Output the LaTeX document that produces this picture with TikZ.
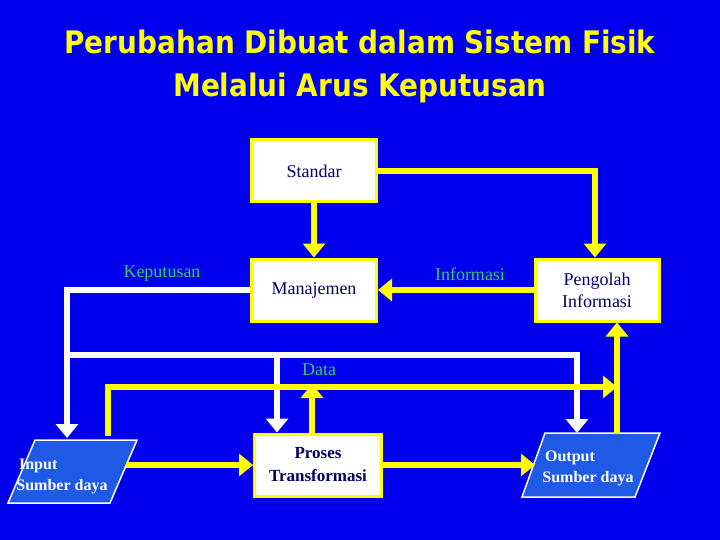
\documentclass[tikz,border=0pt]{standalone}
\usepackage{fontspec}
\setmainfont{Liberation Serif}
\newfontfamily\titlefont{DejaVu Sans Condensed}
\usetikzlibrary{arrows.meta}
\definecolor{bg}{HTML}{0000EE}
\definecolor{yl}{HTML}{FFFF00}
\definecolor{navy}{HTML}{000066}
\definecolor{lbl}{HTML}{33CC66}
\definecolor{para}{HTML}{1E5AE6}
\begin{document}
\begin{tikzpicture}[x=1pt,y=-1pt,
  box/.style={draw=yl,line width=3pt,fill=white,text=navy,font=\fontsize{18}{22}\selectfont,align=center},
  yc/.style={draw=yl,line width=6pt,-{Triangle[length=14pt,width=22pt]}},
  yp/.style={draw=yl,line width=6pt},
  wc/.style={draw=white,line width=6pt,-{Triangle[length=14pt,width=22pt]}},
  wp/.style={draw=white,line width=6pt},
  lab/.style={text=lbl,font=\fontsize{18}{22}\selectfont},
  pg/.style={draw=white,line width=1.5pt,fill=para}]
\fill[bg] (0,0) rectangle (720,540);
\useasboundingbox (0,0) rectangle (720,540);
\node[text=yl,font=\titlefont\bfseries\fontsize{31}{43}\selectfont,align=center] (title) at (360,66)
 {Perubahan Dibuat dalam Sistem Fisik\\Melalui Arus Keputusan};
\node[box,minimum width=125pt,minimum height=62pt] (std) at (314,171) {Standar};
\node[box,minimum width=125pt,minimum height=62pt] (man) at (314,290) {Manajemen};
\node[box,minimum width=124pt,minimum height=62pt] (pen) at (597,290) {Pengolah\\Informasi};
\node[box,minimum width=127pt,minimum height=62pt,font=\bfseries\fontsize{17}{23}\selectfont] (pro) at (318,465) {Proses\\Transformasi};
\filldraw[pg] (35,440) -- (137,440) -- (110,503) -- (8,503) -- cycle;
\filldraw[pg] (545,433) -- (660,433) -- (635,497) -- (522,497) -- cycle;
\node[text=white,font=\bfseries\fontsize{16}{21}\selectfont,align=left] (inp) at (62,476) {\,Input\\Sumber daya};
\node[text=white,font=\bfseries\fontsize{16}{21}\selectfont,align=left] (out) at (588,468) {\,Output\\Sumber daya};
\coordinate (itop) at (67,438);
\coordinate (iyt) at (108,436);
\coordinate (otop) at (577,433);
\coordinate (oyt) at (617,434);
\coordinate (iright) at (126,468);
\coordinate (oleft) at (535,467);
\coordinate (wj) at (277,355);
\coordinate (yj) at (312,387);
\coordinate (sc) at (595,167);
\coordinate (kl) at (67,287);
\draw[wp] (man.west) -- (kl |- man.west) -- (67,355) -- (577,355);
\draw[wc] (67,355) -- (itop);
\draw[wc] (577,352) -- (otop);
\draw[wc] (wj) -- (wj |- pro.north);
\draw[yp] (iyt) -- (108,387) -- (600,387);
\draw[yc] (500,387) -- (617,387);
\draw[yc] (yj |- pro.north) -- (312,384);
\draw[yc] (oyt) -- (oyt |- pen.south);
\draw[yc] (pro.west -| iright) -- (pro.west);
\draw[yc] (pro.east) -- (pro.east -| oleft);
\draw[yc] (std.east) -- (sc |- std.east) -- (sc |- pen.north);
\draw[yc] (std.south) -- (man.north);
\draw[yc] (pen.west) -- (man.east);
\node[lab] (kep) at (162,274) {Keputusan};
\node[lab] (inf) at (470,274) {Informasi};
\node[lab] (dat) at (319,370) {Data};
\end{tikzpicture}
\end{document}
